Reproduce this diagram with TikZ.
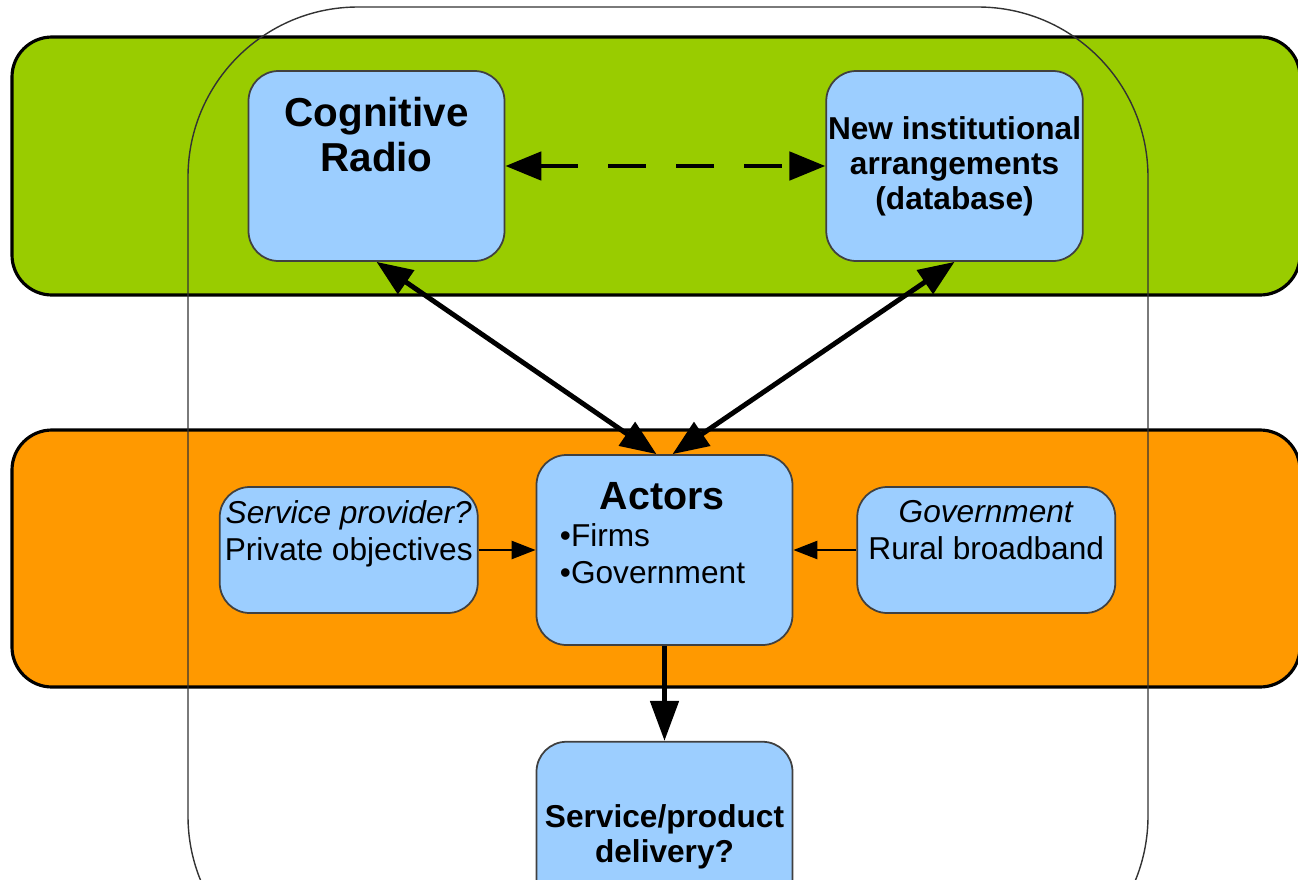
\documentclass[tikz,border=0pt]{standalone}
\usepackage{fontspec}
\setmainfont{Liberation Sans}
\usetikzlibrary{arrows.meta, positioning}

\definecolor{bandgreen}{RGB}{153,204,0}
\definecolor{bandorange}{RGB}{255,153,0}
\definecolor{boxblue}{RGB}{156,206,255}

\newcommand{\headfont}{\fontsize{11.5}{13}\selectfont\bfseries}
\newcommand{\boldsmall}{\fontsize{9}{10}\selectfont\bfseries}
\newcommand{\plainsmall}{\fontsize{9}{10.4}\selectfont}

\begin{document}
\begin{tikzpicture}[
    box/.style={rectangle, rounded corners=0.3cm, draw=black!75, line width=0.5pt, fill=boxblue, minimum width=2.56cm, minimum height=1.9cm, inner xsep=0.5pt, align=center},
    smallbox/.style={box, minimum width=2.58cm, minimum height=1.26cm},
    toptext/.style={anchor=north, align=center, inner sep=0pt},
    band/.style={draw=black, line width=0.9pt, rounded corners=0.4cm},
    frame/.style={draw=black!80, line width=0.4pt, rounded corners=1.7cm},
    link/.style={<->, >={Triangle[length=3.6mm, width=2.8mm]}, line width=1.4pt},
    dashlink/.style={link, dash pattern=on 3.8mm off 3mm},
    feed/.style={->, >={Triangle[length=2.4mm, width=1.8mm]}, line width=0.7pt},
    flow/.style={->, >={Triangle[length=4mm, width=2.8mm]}, line width=1.4pt}
  ]
  \useasboundingbox (0,0) rectangle (12.98,8.79);
  \clip (0,0) rectangle (12.98,8.79);

  % --- background bands and frame ---
  \draw[band, fill=bandgreen] (0.12,5.84) rectangle (13.0,8.42);
  \draw[band, fill=bandorange] (0.12,1.92) rectangle (13.0,4.49);
  \draw[frame] (1.88,-1.07) rectangle (11.48,8.72);

  % --- top row ---
  \node[box, label={[toptext, font=\headfont, yshift=-0.26cm]north:Cognitive\\Radio}] (radio) at (3.765,7.13) {};
  \node[box, font=\boldsmall, right=3.2cm of radio] (inst) {New institutional\\arrangements\\(database)};

  % --- actors row ---
  \node[box, label={[toptext, align=left, font=\plainsmall, xshift=-0.12cm, yshift=-0.28cm]north:\hspace*{0.4cm}{\fontsize{11.2}{13}\selectfont\bfseries Actors}\\•Firms\\•Government}] (actors) at (6.645,3.29) {};
  \node[smallbox, left=0.57cm of actors, label={[toptext, font=\plainsmall, yshift=-0.14cm]north:\textit{Service provider?}\\Private objectives}] (provider) {};
  \node[smallbox, right=0.63cm of actors, label={[toptext, font=\plainsmall, yshift=-0.14cm]north:\textit{Government}\\Rural broadband}] (govt) {};

  % --- output ---
  \node[box, font=\boldsmall, below=0.95cm of actors] (delivery) {Service/product\\delivery?};

  % --- connectors ---
  \draw[dashlink] (radio.east) -- (inst.west);
  \draw[link] (radio.south) -- ([xshift=-0.08cm]actors.north);
  \draw[link] (inst.south) -- ([xshift=0.08cm]actors.north);
  \draw[feed] (provider.east) -- (actors.west);
  \draw[feed] (govt.west) -- (actors.east);
  \draw[flow] (actors.south) -- (delivery.north);
\end{tikzpicture}
\end{document}
